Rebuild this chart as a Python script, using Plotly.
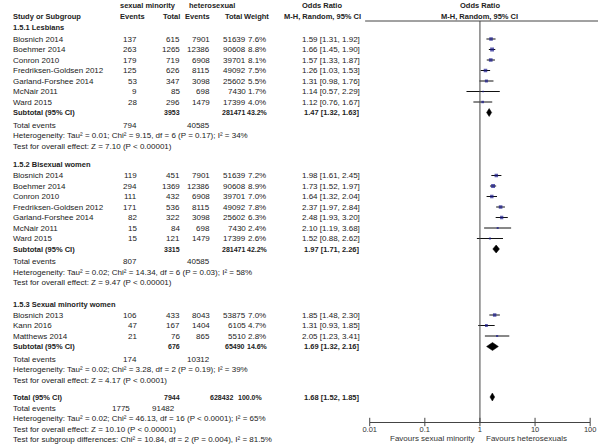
import plotly.graph_objects as go

# ---------------- data ----------------
sec_titles = ["1.5.1 Lesbians", "1.5.2 Bisexual women", "1.5.3 Sexual minority women"]

studies = [
    ["Blosnich 2014", "Boehmer 2014", "Conron 2010", "Fredriksen-Goldsen 2012",
     "Garland-Forshee 2014", "McNair 2011", "Ward 2015"],
    ["Blosnich 2014", "Boehmer 2014", "Conron 2010", "Fredriksen-Goldsen 2012",
     "Garland-Forshee 2014", "McNair 2011", "Ward 2015"],
    ["Blosnich 2013", "Kann 2016", "Matthews 2014"],
]
ev_sm = [[137, 263, 179, 125, 53, 9, 28],
         [119, 294, 111, 171, 82, 15, 15],
         [106, 47, 21]]
tot_sm = [[615, 1265, 719, 626, 347, 85, 296],
          [451, 1369, 432, 536, 322, 84, 121],
          [433, 167, 76]]
ev_het = [[7901, 12386, 6908, 8115, 3098, 698, 1479],
          [7901, 12386, 6908, 8115, 3098, 698, 1479],
          [8043, 1404, 865]]
tot_het = [[51639, 90608, 39701, 49092, 25602, 7430, 17399],
           [51639, 90608, 39701, 49092, 25602, 7430, 17399],
           [53875, 6105, 5510]]
weight = [[7.6, 8.8, 8.1, 7.5, 5.5, 1.7, 4.0],
          [7.2, 8.9, 7.0, 7.8, 6.3, 2.4, 2.6],
          [7.0, 4.7, 2.8]]
or_est = [[1.59, 1.66, 1.57, 1.26, 1.31, 1.14, 1.12],
          [1.98, 1.73, 1.64, 2.37, 2.48, 2.10, 1.52],
          [1.85, 1.31, 2.05]]
or_lo = [[1.31, 1.45, 1.33, 1.03, 0.98, 0.57, 0.76],
         [1.61, 1.52, 1.32, 1.97, 1.93, 1.19, 0.88],
         [1.48, 0.93, 1.23]]
or_hi = [[1.92, 1.90, 1.87, 1.53, 1.76, 2.29, 1.67],
         [2.45, 1.97, 2.04, 2.84, 3.20, 3.68, 2.62],
         [2.30, 1.85, 3.41]]

sub_tot_sm = [3953, 3315, 676]
sub_tot_het = [281471, 281471, 65490]
sub_weight = [43.2, 42.2, 14.6]
sub_or = [1.47, 1.97, 1.69]
sub_lo = [1.32, 1.71, 1.32]
sub_hi = [1.63, 2.26, 2.16]
sub_ev_sm = [794, 807, 174]
sub_ev_het = [40585, 40585, 10312]
sub_het_text = [
    "Heterogeneity: Tau² = 0.01; Chi² = 9.15, df = 6 (P = 0.17); I² = 34%",
    "Heterogeneity: Tau² = 0.02; Chi² = 14.34, df = 6 (P = 0.03); I² = 58%",
    "Heterogeneity: Tau² = 0.02; Chi² = 3.28, df = 2 (P = 0.19); I² = 39%",
]
sub_test_text = [
    "Test for overall effect: Z = 7.10 (P < 0.00001)",
    "Test for overall effect: Z = 9.47 (P < 0.00001)",
    "Test for overall effect: Z = 4.17 (P < 0.0001)",
]

total_sm = 7944
total_het = 628432
total_weight = 100.0
total_or, total_lo, total_hi = 1.68, 1.52, 1.85
total_ev_sm, total_ev_het = 1775, 91482
total_het_text = "Heterogeneity: Tau² = 0.02; Chi² = 46.13, df = 16 (P < 0.0001); I² = 65%"
total_test_text = "Test for overall effect: Z = 10.10 (P < 0.00001)"
subgroup_text = "Test for subgroup differences: Chi² = 10.84, df = 2 (P = 0.004), I² = 81.5%"

tick_vals = [0.01, 0.1, 1, 10, 100]
tick_text = ["0.01", "0.1", "1", "10", "100"]
favours_left = "Favours sexual minority"
favours_right = "Favours heterosexuals"

# ---------------- layout helpers ----------------
W, H = 604, 448
FONT = "Arial, 'Liberation Sans', sans-serif"
TXT = "#222222"
FS = 8
FSB = 7.5
FSBN = 7  # bold numbers in the narrow columns

X_NAME = 4
X_EV1, X_TOT1, X_EV2, X_TOT2, X_W = 135, 179, 209, 246, 267
X_OR = 363

sec_title_y = [27, 164, 304]
study_y0 = [39, 175.5, 315]
STEP = 10.5

ann = []


def txt(x, y, s, anchor="left", bold=False, size=None, color=TXT):
    if size is None:
        size = FSB if bold else FS
    ann.append(dict(x=x / W, y=y, xref="paper", yref="y", text=f"<b>{s}</b>" if bold else s,
                    showarrow=False, xanchor=anchor, yanchor="middle",
                    font=dict(family=FONT, size=size, color=color)))


# headers
txt(144, 5.5, "sexual minority", "center", True)
txt(210, 5.5, "heterosexual", "center", True)
txt(322, 5.5, "Odds Ratio", "center", True)
txt(483, 5.5, "Odds Ratio", "center", True)
txt(X_NAME, 16, "Study or Subgroup", "left", True)
txt(143, 16, "Events", "right", True)
txt(179, 16, "Total", "right", True)
txt(209, 16, "Events", "right", True)
txt(242, 16, "Total", "right", True)
txt(270, 16, "Weight", "right", True)
txt(322, 16, "M-H, Random, 95% CI", "center", True)
txt(483, 16, "M-H, Random, 95% CI", "center", True)

fig = go.Figure()

ci_x, ci_y = [], []
sq_x, sq_y, sq_s = [], [], []

for k in range(3):
    txt(X_NAME, sec_title_y[k], sec_titles[k], "left", True)
    y = study_y0[k]
    for i, name in enumerate(studies[k]):
        txt(X_NAME, y, name)
        txt(X_EV1, y, str(ev_sm[k][i]), "right")
        txt(X_TOT1, y, str(tot_sm[k][i]), "right")
        txt(X_EV2, y, str(ev_het[k][i]), "right")
        txt(X_TOT2, y, str(tot_het[k][i]), "right")
        txt(X_W, y, f"{weight[k][i]:.1f}%", "right")
        txt(X_OR, y, f"{or_est[k][i]:.2f} [{or_lo[k][i]:.2f}, {or_hi[k][i]:.2f}]", "right")
        ci_x += [or_lo[k][i], or_hi[k][i], None]
        ci_y += [y, y, None]
        sq_x.append(or_est[k][i])
        sq_y.append(y)
        sq_s.append(1.3 * weight[k][i] ** 0.5)
        y += STEP
    ys = y
    txt(X_NAME, ys, "Subtotal (95% CI)", "left", True)
    txt(X_TOT1, ys, str(sub_tot_sm[k]), "right", True, FSBN)
    txt(X_TOT2 - 1, ys, str(sub_tot_het[k]), "right", True, FSBN)
    txt(X_W + 1.5, ys, f"{sub_weight[k]:.1f}%", "right", True, FSBN)
    txt(X_OR, ys, f"{sub_or[k]:.2f} [{sub_lo[k]:.2f}, {sub_hi[k]:.2f}]", "right", True)
    fig.add_trace(go.Scatter(
        x=[sub_lo[k], sub_or[k], sub_hi[k], sub_or[k], sub_lo[k]],
        y=[ys, ys - 4, ys, ys + 4, ys], mode="lines", fill="toself",
        fillcolor="black", line=dict(color="black", width=0.5), hoverinfo="skip"))
    ye = ys + 12.5
    txt(X_NAME, ye, "Total events")
    txt(X_EV1, ye, str(sub_ev_sm[k]), "right")
    txt(X_EV2, ye, str(sub_ev_het[k]), "right")
    txt(X_NAME, ye + 10.7, sub_het_text[k])
    txt(X_NAME, ye + 21.2, sub_test_text[k])

# overall
yt = 397
txt(X_NAME, yt, "Total (95% CI)", "left", True)
txt(X_TOT1, yt, str(total_sm), "right", True, FSBN)
txt(233, yt, str(total_het), "right", True, FSBN)
txt(264, yt, f"{total_weight:.1f}%", "right", True, FSBN)
txt(X_OR, yt, f"{total_or:.2f} [{total_lo:.2f}, {total_hi:.2f}]", "right", True)
fig.add_trace(go.Scatter(
    x=[total_lo, total_or, total_hi, total_or, total_lo],
    y=[yt, yt - 4, yt, yt + 4, yt], mode="lines", fill="toself",
    fillcolor="black", line=dict(color="black", width=0.5), hoverinfo="skip"))
txt(X_NAME, 408, "Total events")
txt(128, 408, str(total_ev_sm), "right")
txt(174, 408, str(total_ev_het), "right")
txt(X_NAME, 418.5, total_het_text)
txt(X_NAME, 429, total_test_text)
txt(X_NAME, 439.5, subgroup_text)

fig.add_trace(go.Scatter(x=ci_x, y=ci_y, mode="lines",
                         line=dict(color="#111111", width=1), hoverinfo="skip"))
fig.add_trace(go.Scatter(x=sq_x, y=sq_y, mode="markers",
                         marker=dict(symbol="square", size=sq_s, color="#1a1a8c",
                                     line=dict(width=0)), hoverinfo="skip"))

AX_Y = 422
# tick marks crossing the axis line
fig.add_trace(go.Scatter(x=tick_vals, y=[AX_Y] * len(tick_vals), mode="markers",
                         marker=dict(symbol="line-ns", size=6,
                                     line=dict(color="#444444", width=1)),
                         hoverinfo="skip", cliponaxis=False))

# favours labels
txt(479, 438, favours_left, "right", False, 8, "#333333")
txt(488, 438, favours_right, "left", False, 8, "#333333")

fig.update_layout(
    width=W, height=H, margin=dict(l=0, r=0, t=0, b=0),
    paper_bgcolor="white", plot_bgcolor="rgba(0,0,0,0)",
    showlegend=False, annotations=ann,
    xaxis=dict(type="log", range=[-2, 2], domain=[370.7 / W, 596 / W],
               anchor="free", position=(H - AX_Y) / H,
               showgrid=False, zeroline=False, showline=True, linecolor="#444444",
               linewidth=1, ticks="", ticklabelstandoff=0,
               tickvals=tick_vals, ticktext=tick_text,
               tickfont=dict(family=FONT, size=7.5, color="#333333")),
    yaxis=dict(range=[H, 0], domain=[0, 1], visible=False, fixedrange=True),
    shapes=[
        dict(type="line", xref="paper", yref="y", x0=366 / W, x1=1, y0=21, y1=21,
             line=dict(color="#444444", width=1)),
        dict(type="line", xref="x", yref="y", x0=1, x1=1, y0=21, y1=AX_Y,
             line=dict(color="#444444", width=1)),
    ],
)

fig.write_html("out.html", config={"displayModeBar": False},
               post_script="document.body.style.margin='0px';document.body.style.padding='0px';")
